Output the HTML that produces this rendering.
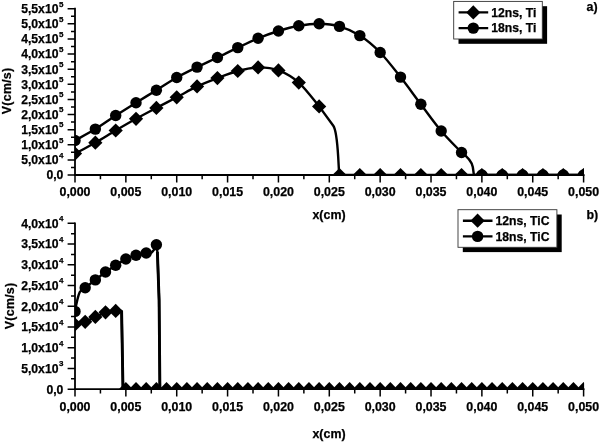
<!DOCTYPE html>
<html><head><meta charset="utf-8"><title>chart</title>
<style>
html,body{margin:0;padding:0;background:#fff;}
svg{display:block}
text{font-family:"Liberation Sans",sans-serif;font-weight:bold;font-size:12.4px;fill:#000;stroke:#000;stroke-width:0.25px}
.sup{font-size:8px}
.lg{font-size:12.2px}
.yl{font-size:12.2px}
</style></head><body>
<svg width="600" height="442" viewBox="0 0 600 442">
<rect width="600" height="442" fill="#fff"/>

<g stroke="#000" stroke-width="1.8" fill="none">
<path d="M75.0 7.85 V175.9"/>
<path d="M74.1 175.0 H584.5"/>
<path d="M67.6 175.00H75.0M71.0 167.44H75.0M67.6 159.89H75.0M71.0 152.33H75.0M67.6 144.77H75.0M71.0 137.22H75.0M67.6 129.66H75.0M71.0 122.10H75.0M67.6 114.55H75.0M71.0 106.99H75.0M67.6 99.43H75.0M71.0 91.88H75.0M67.6 84.32H75.0M71.0 76.76H75.0M67.6 69.20H75.0M71.0 61.65H75.0M67.6 54.09H75.0M71.0 46.53H75.0M67.6 38.98H75.0M71.0 31.42H75.0M67.6 23.86H75.0M71.0 16.31H75.0M67.6 8.75H75.0M75.00 175.0V182.4M100.43 175.0V179.3M125.86 175.0V182.4M151.29 175.0V179.3M176.72 175.0V182.4M202.15 175.0V179.3M227.58 175.0V182.4M253.01 175.0V179.3M278.44 175.0V182.4M303.87 175.0V179.3M329.30 175.0V182.4M354.73 175.0V179.3M380.16 175.0V182.4M405.59 175.0V179.3M431.02 175.0V182.4M456.45 175.0V179.3M481.88 175.0V182.4M507.31 175.0V179.3M532.74 175.0V182.4M558.17 175.0V179.3M583.60 175.0V182.4" stroke-width="1.5"/>
</g>
<text class="yl" x="63.4" y="179.30" text-anchor="end">0,0</text>
<text class="yl" x="63.4" y="164.19" text-anchor="end">5,0x10<tspan class="sup" dx="0.5" dy="-6.5">4</tspan></text>
<text class="yl" x="63.4" y="149.07" text-anchor="end">1,0x10<tspan class="sup" dx="0.5" dy="-6.5">5</tspan></text>
<text class="yl" x="63.4" y="133.96" text-anchor="end">1,5x10<tspan class="sup" dx="0.5" dy="-6.5">5</tspan></text>
<text class="yl" x="63.4" y="118.85" text-anchor="end">2,0x10<tspan class="sup" dx="0.5" dy="-6.5">5</tspan></text>
<text class="yl" x="63.4" y="103.73" text-anchor="end">2,5x10<tspan class="sup" dx="0.5" dy="-6.5">5</tspan></text>
<text class="yl" x="63.4" y="88.62" text-anchor="end">3,0x10<tspan class="sup" dx="0.5" dy="-6.5">5</tspan></text>
<text class="yl" x="63.4" y="73.50" text-anchor="end">3,5x10<tspan class="sup" dx="0.5" dy="-6.5">5</tspan></text>
<text class="yl" x="63.4" y="58.39" text-anchor="end">4,0x10<tspan class="sup" dx="0.5" dy="-6.5">5</tspan></text>
<text class="yl" x="63.4" y="43.28" text-anchor="end">4,5x10<tspan class="sup" dx="0.5" dy="-6.5">5</tspan></text>
<text class="yl" x="63.4" y="28.16" text-anchor="end">5,0x10<tspan class="sup" dx="0.5" dy="-6.5">5</tspan></text>
<text class="yl" x="63.4" y="13.05" text-anchor="end">5,5x10<tspan class="sup" dx="0.5" dy="-6.5">5</tspan></text>
<text x="75.00" y="196.4" text-anchor="middle">0,000</text>
<text x="125.86" y="196.4" text-anchor="middle">0,005</text>
<text x="176.72" y="196.4" text-anchor="middle">0,010</text>
<text x="227.58" y="196.4" text-anchor="middle">0,015</text>
<text x="278.44" y="196.4" text-anchor="middle">0,020</text>
<text x="329.30" y="196.4" text-anchor="middle">0,025</text>
<text x="380.16" y="196.4" text-anchor="middle">0,030</text>
<text x="431.02" y="196.4" text-anchor="middle">0,035</text>
<text x="481.88" y="196.4" text-anchor="middle">0,040</text>
<text x="532.74" y="196.4" text-anchor="middle">0,045</text>
<text x="583.60" y="196.4" text-anchor="middle">0,050</text>
<text x="329" y="218.6" text-anchor="middle">x(cm)</text>
<text transform="translate(11.0 90.9) rotate(-90)" text-anchor="middle" letter-spacing="0.25">V(cm/s)</text>
<clipPath id="ca"><rect x="75.0" y="0" width="509.1" height="175.0"/></clipPath>
<g clip-path="url(#ca)">
<path d="M75.00 153.60C78.39 151.78 88.56 146.55 95.34 142.70C102.13 138.85 108.91 134.48 115.69 130.50C122.47 126.52 129.25 122.57 136.03 118.80C142.81 115.03 149.59 111.48 156.38 107.90C163.16 104.32 169.94 100.88 176.72 97.30C183.50 93.72 190.28 89.60 197.06 86.40C203.85 83.20 210.63 80.67 217.41 78.10C224.19 75.53 230.97 72.78 237.75 71.00C244.53 69.22 251.31 67.50 258.10 67.40C264.88 67.30 271.66 67.87 278.44 70.40C285.22 72.93 292.00 76.60 298.78 82.60C305.57 88.60 315.74 102.43 319.13 106.40L333.3 125.8 C336.6 130.5 337.4 144 338.2 157 L339.2 175.0 L583.6 175.0" fill="none" stroke="#000" stroke-width="2.4" stroke-linejoin="round"/>
<path d="M75.00 140.50C78.39 138.60 88.56 133.27 95.34 129.10C102.13 124.93 108.91 119.90 115.69 115.50C122.47 111.10 129.25 106.92 136.03 102.70C142.81 98.48 149.59 94.40 156.38 90.20C163.16 86.00 169.94 81.35 176.72 77.50C183.50 73.65 190.28 70.43 197.06 67.10C203.85 63.77 210.63 60.75 217.41 57.50C224.19 54.25 230.97 50.80 237.75 47.60C244.53 44.40 251.31 41.07 258.10 38.30C264.88 35.53 271.66 33.08 278.44 31.00C285.22 28.92 292.00 27.02 298.78 25.80C305.57 24.58 312.35 23.60 319.13 23.70C325.91 23.80 332.69 24.42 339.47 26.40C346.25 28.38 353.03 31.25 359.82 35.60C366.60 39.95 373.38 45.58 380.16 52.50C386.94 59.42 393.72 68.47 400.50 77.10C407.29 85.73 414.07 95.32 420.85 104.30C427.63 113.28 434.41 122.97 441.19 131.00C447.97 139.03 458.15 148.92 461.54 152.50C466.8 156.3 471.6 160.5 472.8 167 L473.9 175.0L583.6 175.0" fill="none" stroke="#000" stroke-width="2.4" stroke-linejoin="round"/>
<path d="M75.00 146.50L82.10 153.60L75.00 160.70L67.90 153.60Z"/>
<path d="M95.34 135.60L102.44 142.70L95.34 149.80L88.24 142.70Z"/>
<path d="M115.69 123.40L122.79 130.50L115.69 137.60L108.59 130.50Z"/>
<path d="M136.03 111.70L143.13 118.80L136.03 125.90L128.93 118.80Z"/>
<path d="M156.38 100.80L163.48 107.90L156.38 115.00L149.28 107.90Z"/>
<path d="M176.72 90.20L183.82 97.30L176.72 104.40L169.62 97.30Z"/>
<path d="M197.06 79.30L204.16 86.40L197.06 93.50L189.96 86.40Z"/>
<path d="M217.41 71.00L224.51 78.10L217.41 85.20L210.31 78.10Z"/>
<path d="M237.75 63.90L244.85 71.00L237.75 78.10L230.65 71.00Z"/>
<path d="M258.10 60.30L265.20 67.40L258.10 74.50L251.00 67.40Z"/>
<path d="M278.44 63.30L285.54 70.40L278.44 77.50L271.34 70.40Z"/>
<path d="M298.78 75.50L305.88 82.60L298.78 89.70L291.68 82.60Z"/>
<path d="M319.13 99.30L326.23 106.40L319.13 113.50L312.03 106.40Z"/>
<path d="M339.47 167.90L346.57 175.00L339.47 182.10L332.37 175.00Z"/>
<path d="M359.82 167.90L366.92 175.00L359.82 182.10L352.72 175.00Z"/>
<path d="M380.16 167.90L387.26 175.00L380.16 182.10L373.06 175.00Z"/>
<path d="M400.50 167.90L407.60 175.00L400.50 182.10L393.40 175.00Z"/>
<path d="M420.85 167.90L427.95 175.00L420.85 182.10L413.75 175.00Z"/>
<path d="M441.19 167.90L448.29 175.00L441.19 182.10L434.09 175.00Z"/>
<path d="M461.54 167.90L468.64 175.00L461.54 182.10L454.44 175.00Z"/>
<path d="M481.88 167.90L488.98 175.00L481.88 182.10L474.78 175.00Z"/>
<path d="M502.22 167.90L509.32 175.00L502.22 182.10L495.12 175.00Z"/>
<path d="M522.57 167.90L529.67 175.00L522.57 182.10L515.47 175.00Z"/>
<path d="M542.91 167.90L550.01 175.00L542.91 182.10L535.81 175.00Z"/>
<path d="M563.26 167.90L570.36 175.00L563.26 182.10L556.16 175.00Z"/>
<path d="M583.60 167.90L590.70 175.00L583.60 182.10L576.50 175.00Z"/>
<circle cx="75.00" cy="140.50" r="5.7"/>
<circle cx="95.34" cy="129.10" r="5.7"/>
<circle cx="115.69" cy="115.50" r="5.7"/>
<circle cx="136.03" cy="102.70" r="5.7"/>
<circle cx="156.38" cy="90.20" r="5.7"/>
<circle cx="176.72" cy="77.50" r="5.7"/>
<circle cx="197.06" cy="67.10" r="5.7"/>
<circle cx="217.41" cy="57.50" r="5.7"/>
<circle cx="237.75" cy="47.60" r="5.7"/>
<circle cx="258.10" cy="38.30" r="5.7"/>
<circle cx="278.44" cy="31.00" r="5.7"/>
<circle cx="298.78" cy="25.80" r="5.7"/>
<circle cx="319.13" cy="23.70" r="5.7"/>
<circle cx="339.47" cy="26.40" r="5.7"/>
<circle cx="359.82" cy="35.60" r="5.7"/>
<circle cx="380.16" cy="52.50" r="5.7"/>
<circle cx="400.50" cy="77.10" r="5.7"/>
<circle cx="420.85" cy="104.30" r="5.7"/>
<circle cx="441.19" cy="131.00" r="5.7"/>
<circle cx="461.54" cy="152.50" r="5.7"/>
<circle cx="481.88" cy="175.00" r="5.7"/>
<circle cx="502.22" cy="175.00" r="5.7"/>
<circle cx="522.57" cy="175.00" r="5.7"/>
<circle cx="542.91" cy="175.00" r="5.7"/>
<circle cx="563.26" cy="175.00" r="5.7"/>
<circle cx="583.60" cy="175.00" r="5.7"/>
</g>
<rect x="458.5" y="6.199999999999999" width="88.6" height="37.6" fill="#000"/>
<rect x="453.7" y="1.4" width="88.6" height="37.6" fill="#fff" stroke="#333" stroke-width="0.9"/>
<path d="M458.59999999999997 12.4H488.2M458.59999999999997 28.099999999999998H488.2" stroke="#000" stroke-width="2.4"/>
<path d="M473.3 5.300000000000001L480.40000000000003 12.4L473.3 19.5L466.2 12.4Z"/>
<circle cx="473.3" cy="28.099999999999998" r="5.7"/>
<text class="lg" x="491.2" y="16.5">12ns, Ti</text>
<text class="lg" x="491.2" y="32.199999999999996">18ns, Ti</text>
<text x="586.6" y="11">a)</text>
<g stroke="#000" stroke-width="1.8" fill="none">
<path d="M75.0 222.4 V390.09999999999997"/>
<path d="M74.1 389.2 H584.5"/>
<path d="M67.6 389.20H75.0M71.0 378.83H75.0M67.6 368.46H75.0M71.0 358.09H75.0M67.6 347.73H75.0M71.0 337.36H75.0M67.6 326.99H75.0M71.0 316.62H75.0M67.6 306.25H75.0M71.0 295.88H75.0M67.6 285.51H75.0M71.0 275.14H75.0M67.6 264.77H75.0M71.0 254.41H75.0M67.6 244.04H75.0M71.0 233.67H75.0M67.6 223.30H75.0M75.00 389.2V396.59999999999997M100.43 389.2V393.5M125.86 389.2V396.59999999999997M151.29 389.2V393.5M176.72 389.2V396.59999999999997M202.15 389.2V393.5M227.58 389.2V396.59999999999997M253.01 389.2V393.5M278.44 389.2V396.59999999999997M303.87 389.2V393.5M329.30 389.2V396.59999999999997M354.73 389.2V393.5M380.16 389.2V396.59999999999997M405.59 389.2V393.5M431.02 389.2V396.59999999999997M456.45 389.2V393.5M481.88 389.2V396.59999999999997M507.31 389.2V393.5M532.74 389.2V396.59999999999997M558.17 389.2V393.5M583.60 389.2V396.59999999999997" stroke-width="1.5"/>
</g>
<text class="yl" x="63.4" y="393.50" text-anchor="end">0,0</text>
<text class="yl" x="63.4" y="372.76" text-anchor="end">5,0x10<tspan class="sup" dx="0.5" dy="-6.5">3</tspan></text>
<text class="yl" x="63.4" y="352.03" text-anchor="end">1,0x10<tspan class="sup" dx="0.5" dy="-6.5">4</tspan></text>
<text class="yl" x="63.4" y="331.29" text-anchor="end">1,5x10<tspan class="sup" dx="0.5" dy="-6.5">4</tspan></text>
<text class="yl" x="63.4" y="310.55" text-anchor="end">2,0x10<tspan class="sup" dx="0.5" dy="-6.5">4</tspan></text>
<text class="yl" x="63.4" y="289.81" text-anchor="end">2,5x10<tspan class="sup" dx="0.5" dy="-6.5">4</tspan></text>
<text class="yl" x="63.4" y="269.07" text-anchor="end">3,0x10<tspan class="sup" dx="0.5" dy="-6.5">4</tspan></text>
<text class="yl" x="63.4" y="248.34" text-anchor="end">3,5x10<tspan class="sup" dx="0.5" dy="-6.5">4</tspan></text>
<text class="yl" x="63.4" y="227.60" text-anchor="end">4,0x10<tspan class="sup" dx="0.5" dy="-6.5">4</tspan></text>
<text x="75.00" y="410.59999999999997" text-anchor="middle">0,000</text>
<text x="125.86" y="410.59999999999997" text-anchor="middle">0,005</text>
<text x="176.72" y="410.59999999999997" text-anchor="middle">0,010</text>
<text x="227.58" y="410.59999999999997" text-anchor="middle">0,015</text>
<text x="278.44" y="410.59999999999997" text-anchor="middle">0,020</text>
<text x="329.30" y="410.59999999999997" text-anchor="middle">0,025</text>
<text x="380.16" y="410.59999999999997" text-anchor="middle">0,030</text>
<text x="431.02" y="410.59999999999997" text-anchor="middle">0,035</text>
<text x="481.88" y="410.59999999999997" text-anchor="middle">0,040</text>
<text x="532.74" y="410.59999999999997" text-anchor="middle">0,045</text>
<text x="583.60" y="410.59999999999997" text-anchor="middle">0,050</text>
<text x="329" y="438.2" text-anchor="middle">x(cm)</text>
<text transform="translate(14.4 305.9) rotate(-90)" text-anchor="middle" letter-spacing="0.25">V(cm/s)</text>
<clipPath id="cb"><rect x="75.0" y="0" width="509.1" height="389.2"/></clipPath>
<g clip-path="url(#cb)">
<path d="M75.00 324.50L85.17 321.80L95.34 316.90L105.52 312.30L115.69 310.90L121.6 311.0 L123.0 389.2 L583.6 389.2" fill="none" stroke="#000" stroke-width="2.4" stroke-linejoin="round"/>
<path d="M75.0 311.4 C76.3 304 77.6 296.5 79.8 292 C81 289.8 83 288.6 85.17 287.80L95.34 279.90L105.52 272.00L115.69 265.20L125.86 259.00L136.03 255.20L146.20 253.00C150 254.8 153.5 252.5 156.38 244.80L157.4 252 L159.1 300 L159.9 389.2 L583.6 389.2" fill="none" stroke="#000" stroke-width="2.4" stroke-linejoin="round"/>
<path d="M121.6 311.0 L123.0 389.2M157.4 252 L159.1 300 L159.9 389.2" fill="none" stroke="#000" stroke-width="2.9"/>
<path d="M75.00 317.40L82.10 324.50L75.00 331.60L67.90 324.50Z"/>
<path d="M85.17 314.70L92.27 321.80L85.17 328.90L78.07 321.80Z"/>
<path d="M95.34 309.80L102.44 316.90L95.34 324.00L88.24 316.90Z"/>
<path d="M105.52 305.20L112.62 312.30L105.52 319.40L98.42 312.30Z"/>
<path d="M115.69 303.80L122.79 310.90L115.69 318.00L108.59 310.90Z"/>
<path d="M125.86 382.10L132.96 389.20L125.86 396.30L118.76 389.20Z"/>
<path d="M136.03 382.10L143.13 389.20L136.03 396.30L128.93 389.20Z"/>
<path d="M146.20 382.10L153.30 389.20L146.20 396.30L139.10 389.20Z"/>
<path d="M156.38 382.10L163.48 389.20L156.38 396.30L149.28 389.20Z"/>
<path d="M166.55 382.10L173.65 389.20L166.55 396.30L159.45 389.20Z"/>
<path d="M176.72 382.10L183.82 389.20L176.72 396.30L169.62 389.20Z"/>
<path d="M186.89 382.10L193.99 389.20L186.89 396.30L179.79 389.20Z"/>
<path d="M197.06 382.10L204.16 389.20L197.06 396.30L189.96 389.20Z"/>
<path d="M207.24 382.10L214.34 389.20L207.24 396.30L200.14 389.20Z"/>
<path d="M217.41 382.10L224.51 389.20L217.41 396.30L210.31 389.20Z"/>
<path d="M227.58 382.10L234.68 389.20L227.58 396.30L220.48 389.20Z"/>
<path d="M237.75 382.10L244.85 389.20L237.75 396.30L230.65 389.20Z"/>
<path d="M247.92 382.10L255.02 389.20L247.92 396.30L240.82 389.20Z"/>
<path d="M258.10 382.10L265.20 389.20L258.10 396.30L251.00 389.20Z"/>
<path d="M268.27 382.10L275.37 389.20L268.27 396.30L261.17 389.20Z"/>
<path d="M278.44 382.10L285.54 389.20L278.44 396.30L271.34 389.20Z"/>
<path d="M288.61 382.10L295.71 389.20L288.61 396.30L281.51 389.20Z"/>
<path d="M298.78 382.10L305.88 389.20L298.78 396.30L291.68 389.20Z"/>
<path d="M308.96 382.10L316.06 389.20L308.96 396.30L301.86 389.20Z"/>
<path d="M319.13 382.10L326.23 389.20L319.13 396.30L312.03 389.20Z"/>
<path d="M329.30 382.10L336.40 389.20L329.30 396.30L322.20 389.20Z"/>
<path d="M339.47 382.10L346.57 389.20L339.47 396.30L332.37 389.20Z"/>
<path d="M349.64 382.10L356.74 389.20L349.64 396.30L342.54 389.20Z"/>
<path d="M359.82 382.10L366.92 389.20L359.82 396.30L352.72 389.20Z"/>
<path d="M369.99 382.10L377.09 389.20L369.99 396.30L362.89 389.20Z"/>
<path d="M380.16 382.10L387.26 389.20L380.16 396.30L373.06 389.20Z"/>
<path d="M390.33 382.10L397.43 389.20L390.33 396.30L383.23 389.20Z"/>
<path d="M400.50 382.10L407.60 389.20L400.50 396.30L393.40 389.20Z"/>
<path d="M410.68 382.10L417.78 389.20L410.68 396.30L403.58 389.20Z"/>
<path d="M420.85 382.10L427.95 389.20L420.85 396.30L413.75 389.20Z"/>
<path d="M431.02 382.10L438.12 389.20L431.02 396.30L423.92 389.20Z"/>
<path d="M441.19 382.10L448.29 389.20L441.19 396.30L434.09 389.20Z"/>
<path d="M451.36 382.10L458.46 389.20L451.36 396.30L444.26 389.20Z"/>
<path d="M461.54 382.10L468.64 389.20L461.54 396.30L454.44 389.20Z"/>
<path d="M471.71 382.10L478.81 389.20L471.71 396.30L464.61 389.20Z"/>
<path d="M481.88 382.10L488.98 389.20L481.88 396.30L474.78 389.20Z"/>
<path d="M492.05 382.10L499.15 389.20L492.05 396.30L484.95 389.20Z"/>
<path d="M502.22 382.10L509.32 389.20L502.22 396.30L495.12 389.20Z"/>
<path d="M512.40 382.10L519.50 389.20L512.40 396.30L505.30 389.20Z"/>
<path d="M522.57 382.10L529.67 389.20L522.57 396.30L515.47 389.20Z"/>
<path d="M532.74 382.10L539.84 389.20L532.74 396.30L525.64 389.20Z"/>
<path d="M542.91 382.10L550.01 389.20L542.91 396.30L535.81 389.20Z"/>
<path d="M553.08 382.10L560.18 389.20L553.08 396.30L545.98 389.20Z"/>
<path d="M563.26 382.10L570.36 389.20L563.26 396.30L556.16 389.20Z"/>
<path d="M573.43 382.10L580.53 389.20L573.43 396.30L566.33 389.20Z"/>
<path d="M583.60 382.10L590.70 389.20L583.60 396.30L576.50 389.20Z"/>
<circle cx="75.00" cy="311.40" r="5.7"/>
<circle cx="85.17" cy="287.80" r="5.7"/>
<circle cx="95.34" cy="279.90" r="5.7"/>
<circle cx="105.52" cy="272.00" r="5.7"/>
<circle cx="115.69" cy="265.20" r="5.7"/>
<circle cx="125.86" cy="259.00" r="5.7"/>
<circle cx="136.03" cy="255.20" r="5.7"/>
<circle cx="146.20" cy="253.00" r="5.7"/>
<circle cx="156.38" cy="244.80" r="5.7"/>
</g>
<rect x="462.8" y="214.5" width="98.9" height="37.6" fill="#000"/>
<rect x="458.0" y="209.7" width="98.9" height="37.6" fill="#fff" stroke="#333" stroke-width="0.9"/>
<path d="M462.9 220.7H492.5M462.9 236.39999999999998H492.5" stroke="#000" stroke-width="2.4"/>
<path d="M477.6 213.6L484.70000000000005 220.7L477.6 227.79999999999998L470.5 220.7Z"/>
<circle cx="477.6" cy="236.39999999999998" r="5.7"/>
<text class="lg" x="495.5" y="224.79999999999998">12ns, TiC</text>
<text class="lg" x="495.5" y="240.49999999999997">18ns, TiC</text>
<text x="586.4" y="218.5">b)</text>
</svg></body></html>
